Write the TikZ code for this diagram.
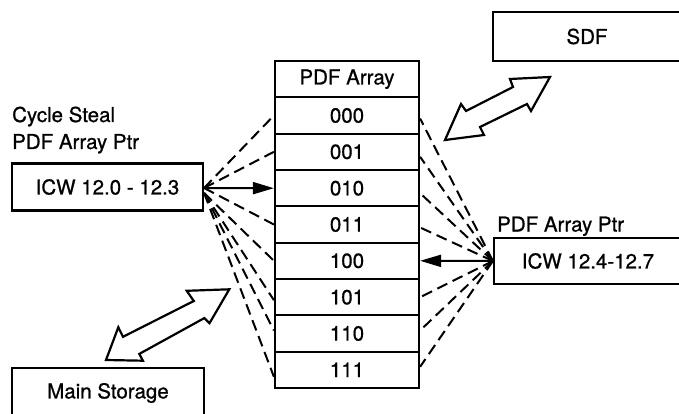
\documentclass[tikz,border=0pt]{standalone}
\usepackage{fontspec}
\setmainfont{TeX Gyre Heros}[FakeBold=0.8]
\usetikzlibrary{arrows.meta}
\begin{document}
\begin{tikzpicture}[x=1pt,y=-1pt,
  font=\fontsize{20.5}{24}\selectfont,
  box/.style={draw,line width=2.2pt,inner sep=0pt},
  cell/.style={draw,line width=2.2pt,minimum width=144pt,minimum height=36.33pt,inner sep=0pt},
  lbl/.style={anchor=base west,inner sep=0pt},
  dashline/.style={line width=2pt,dash pattern=on 11pt off 6pt},
  ptr/.style={line width=2pt,-{Triangle[length=21pt,width=12pt]}},
  fat/.style={draw,line width=2.2pt,line join=miter,fill=white}]
\clip (0,0) rectangle (679,414);
% PDF array
\node[cell] (hd) at (347,79.2) {PDF Array};
\node[cell] (r0) at (347,115.5) {000};
\node[cell] (r1) at (347,151.8) {001};
\node[cell] (r2) at (347,188.2) {010};
\node[cell] (r3) at (347,224.5) {011};
\node[cell] (r4) at (347,260.8) {100};
\node[cell] (r5) at (347,297.2) {101};
\node[cell] (r6) at (347,333.5) {110};
\node[cell] (r7) at (347,369.8) {111};
% boxes
\node[box,minimum width=191pt,minimum height=47pt] (L) at (107.5,187) {ICW 12.0 - 12.3};
\node[box,minimum width=188pt,minimum height=46pt] (R) at (588,261) {ICW 12.4-12.7};
\node[box,minimum width=188pt,minimum height=49pt] (S) at (587,36.5) {SDF};
\node[box,minimum width=192pt,minimum height=50pt] (M) at (108,393) {Main Storage};
% labels
\node[lbl] (cs) at (12,122) {Cycle Steal};
\node[lbl] (pl) at (12,149) {PDF Array Ptr};
\node[lbl] (pr) at (497,231.5) {PDF Array Ptr};
% left fan
\coordinate (La) at ([yshift=-1pt]L.east);
\coordinate (Lb) at ([yshift=-6pt]L.east);
\draw[dashline] (La) -- (r0.west);
\draw[dashline] (La) -- (r1.west);
\draw[dashline] (La) -- (r3.west);
\draw[dashline] (Lb) -- (r4.west);
\draw[dashline] (Lb) -- ([yshift=-3pt]r5.west);
\draw[dashline] (Lb) -- ([yshift=3pt]r6.west);
\draw[dashline] (Lb) -- ([yshift=-7pt]r7.west);
\draw[ptr] (La) -- (r2.west);
% right fan
\draw[dashline] (R.west) -- ([yshift=-3pt]r0.east);
\draw[dashline] (R.west) -- ([yshift=-5pt]r1.east);
\draw[dashline] (R.west) -- ([yshift=-5pt]r2.east);
\draw[dashline] (R.west) -- ([yshift=-3pt]r3.east);
\draw[dashline] (R.west) -- (r5.east);
\draw[dashline] (R.west) -- ([yshift=3pt]r6.east);
\draw[dashline] (R.west) -- ([yshift=3pt]r7.east);
\draw[ptr] (R.west) -- (r4.east);
% double arrows
\draw[fat] (445,140) -- (461,104) -- (466,111) -- (513,87) -- (510,79) -- (550,77)
  -- (531,111) -- (527,104) -- (480,127) -- (484,135) -- cycle;
\draw[fat] (106,360) -- (118.3,327.3) -- (123,336.8) -- (193.8,301) -- (186.7,290.8) -- (229.3,289.3)
  -- (209.5,323.2) -- (204.3,318.1) -- (139.3,353.9) -- (142.9,360.7) -- cycle;
\end{tikzpicture}
\end{document}
